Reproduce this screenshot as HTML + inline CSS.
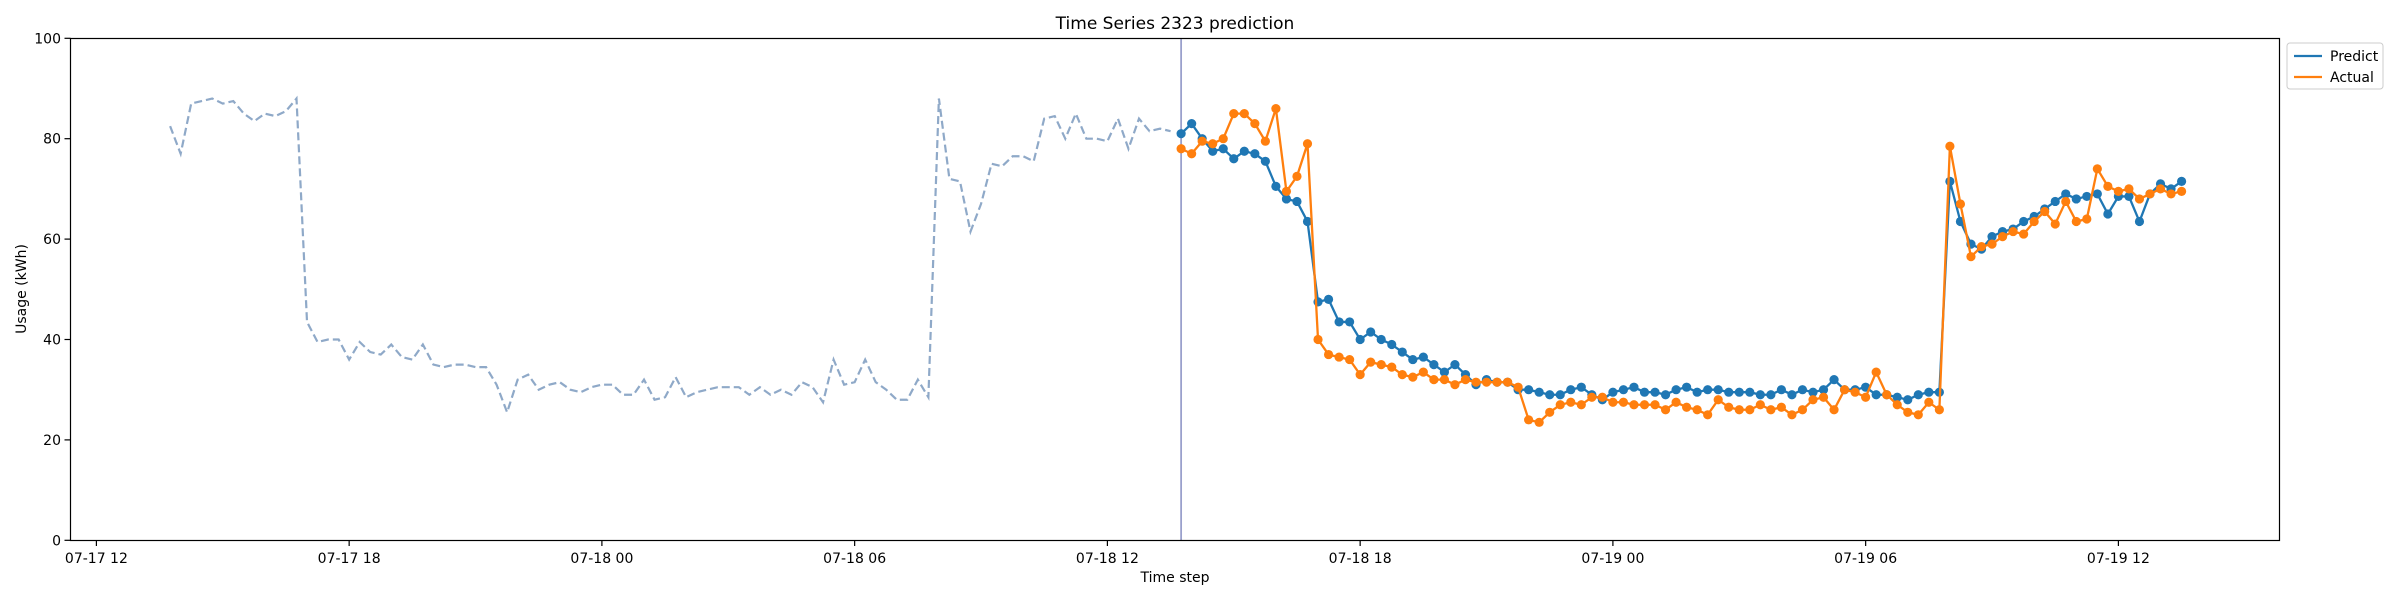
<!DOCTYPE html>
<html><head><meta charset="utf-8"><style>
html,body{margin:0;padding:0;background:#fff}
svg{display:block;font-family:"DejaVu Sans","Liberation Sans",sans-serif}
</style></head><body>
<svg id="chart" width="2400" height="600" viewBox="0 0 2400 600">
<text x="1175" y="29" text-anchor="middle" font-size="17">Time Series 2323 prediction</text>
<text x="1175" y="582" text-anchor="middle" font-size="14">Time step</text>
<text x="26" y="289" text-anchor="middle" font-size="14" transform="rotate(-90 26 289)">Usage (kWh)</text>
<g id="axes"></g>
<g id="marks"></g>
<rect x="70.5" y="38.5" width="2209" height="502" fill="none" stroke="#000" stroke-width="1.2"/>
<g>
<rect x="2287" y="43" width="96" height="46" rx="3" fill="#fff" stroke="#ccc"/>
<line x1="2294" y1="56" x2="2322" y2="56" stroke="#1f77b4" stroke-width="2.2"/>
<text x="2330" y="61" font-size="14">Predict</text>
<line x1="2294" y1="77" x2="2322" y2="77" stroke="#ff7f0e" stroke-width="2.2"/>
<text x="2330" y="82" font-size="14">Actual</text>
</g>
</svg>
<script>
const history = [82.5,77,87,87.5,88,87,87.5,85,83.5,85,84.5,85.5,88,
43.5,39.5,40,40,36,39.5,37.5,37,39,36.5,36,39,35,34.5,35,35,34.5,34.5,31,25.5,
32,33,30,31,31.5,30,29.5,30.5,31,31,29,29,32,28,28.5,32.5,28.5,29.5,30,30.5,30.5,30.5,29,30.5,29,30,29,31.5,30.5,27.5,
36,31,31.5,36,31.5,30,28,28,32,28.5,
88,72,71.5,61.5,67,75,74.5,76.5,76.5,75.5,84,84.5,80,85,80,80,79.5,84,78,84,81.5,82,81.5];
const predict = [81,83,80,77.5,78,76,77.5,77,75.5,70.5,68,67.5,63.5,
47.5,48,43.5,43.5,40,41.5,40,39,37.5,36,36.5,35,
33.5,35,33,31,32,31.5,31.5,30,30,29.5,29,29,30,30.5,29,28,29.5,30,30.5,29.5,29.5,29,30,30.5,29.5,30,30,29.5,29.5,29.5,29,29,30,29,30,29.5,30,32,30,30,30.5,29,29,28.5,28,29,29.5,29.5,
71.5,63.5,59,58,60.5,61.5,62,63.5,64.5,66,67.5,69,68,68.5,69,65,68.5,68.5,63.5,69,71,70,71.5];
const actual = [78,77,79.5,79,80,85,85,83,79.5,86,69.5,72.5,79,
40,37,36.5,36,33,35.5,35,34.5,33,32.5,33.5,32,32,31,32,31.5,31.5,31.5,31.5,30.5,24,23.5,25.5,27,27.5,27,28.5,28.5,27.5,27.5,27,27,27,26,27.5,26.5,26,25,28,26.5,26,26,27,26,26.5,25,26,28,28.5,26,30,29.5,28.5,33.5,29,27,25.5,25,27.5,26,
78.5,67,56.5,58.5,59,60.5,61.5,61,63.5,65.5,63,67.5,63.5,64,74,70.5,69.5,70,68,69,70,69,69.5];
const xTickLabels = ["07-17 12","07-17 18","07-18 00","07-18 06","07-18 12","07-18 18","07-19 00","07-19 06","07-19 12"];
const yTicks = [0,20,40,60,80,100];
const historyStartHour = 1.75;
const predictStartHour = 25.75;
const stepHours = 0.25;

const NS="http://www.w3.org/2000/svg";
const X0=96.4, PXH=42.125, YB=540.3, YT=38.3;
function xh(h){return X0+h*PXH;}
function yv(v){return YB-(v/100)*(YB-YT);}
function mk(tag,attrs,parent){const e=document.createElementNS(NS,tag);for(const k in attrs)e.setAttribute(k,attrs[k]);parent.appendChild(e);return e;}
const axes=document.getElementById('axes'), marks=document.getElementById('marks');

xTickLabels.forEach((lab,i)=>{
  const x=xh(i*6);
  const t=mk('line',{x1:x,y1:540.3,x2:x,y2:546,stroke:'#000','stroke-width':1.2},axes);
  
  
  const tx=mk('text',{x:x,y:563,'text-anchor':'middle','font-size':14},axes);
  tx.textContent=lab;
  
  
});
yTicks.forEach(v=>{
  const y=yv(v);
  const t=mk('line',{x1:64.5,y1:y,x2:70.5,y2:y,stroke:'#000','stroke-width':1.2},axes);
  
  
  const tx=mk('text',{x:61,y:y+5,'text-anchor':'end','font-size':14},axes);
  tx.textContent=v;
  
  
});

function pts(arr,start){return arr.map((v,i)=>[xh(start+i*stepHours),yv(v)]);}
const hp=pts(history,historyStartHour);
const hl=mk('polyline',{points:hp.map(p=>p.join(',')).join(' '),fill:'none',stroke:'#8fa9c8','stroke-width':2.2,'stroke-dasharray':'8,4'},marks);



const vx=xh(predictStartHour);
const vl=mk('line',{x1:vx,y1:38.3,x2:vx,y2:540.3,stroke:'#9aa0cc','stroke-width':1.8},marks);



function series(arr,color,name){
  const p=pts(arr,predictStartHour);
  const l=mk('polyline',{points:p.map(q=>q.join(',')).join(' '),fill:'none',stroke:color,'stroke-width':2.3},marks);
  
  
  p.forEach(q=>{
    const c=mk('circle',{cx:q[0],cy:q[1],r:4.6,fill:color},marks);
    
    
  });
}
series(predict,'#1f77b4','predict');
series(actual,'#ff7f0e','actual');
</script>
</body></html>
